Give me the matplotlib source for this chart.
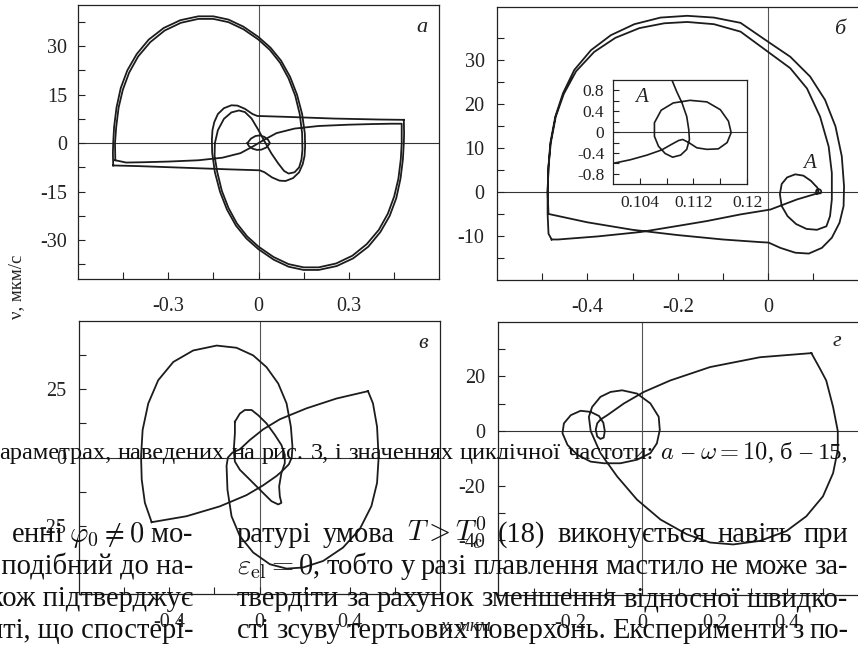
import numpy as np
import matplotlib
matplotlib.use("Agg")
import matplotlib.pyplot as plt
from matplotlib.ticker import FixedLocator

plt.rcParams['font.family'] = ['Liberation Serif', 'DejaVu Serif']
plt.rcParams['mathtext.fontset'] = 'cm'
plt.rcParams['axes.unicode_minus'] = False

# ---------------- panel a (omega = 10) ----------------
a_loop_left = [(-0.483, -6.9), (-0.484, -3), (-0.483, 0), (-0.480, 5), (-0.472, 11), (-0.458, 17),
               (-0.436, 22.5), (-0.405, 27.5), (-0.365, 32), (-0.315, 35.6), (-0.26, 38), (-0.2, 39.2),
               (-0.15, 39.2), (-0.1, 38.2), (-0.05, 36), (0.0, 32.8), (0.04, 29.5), (0.075, 25.5),
               (0.105, 20.5), (0.128, 15), (0.145, 9), (0.154, 3), (0.155, -1), (0.153, -4),
               (0.147, -6.5), (0.135, -9), (0.115, -10.8), (0.09, -11.7), (0.07, -11.6), (0.045, -10.6),
               (0.02, -9), (0.004, -8.4), (-0.1, -8.1), (-0.25, -7.6), (-0.4, -7.1), (-0.483, -6.9)]
a_loop_right = [(0.483, 7.2), (0.484, 3), (0.483, 0), (0.480, -5), (0.472, -11), (0.458, -17),
                (0.436, -22.5), (0.405, -27.5), (0.365, -32), (0.315, -35.6), (0.26, -38), (0.2, -39.2),
                (0.15, -39.2), (0.1, -38.2), (0.05, -36), (0.0, -32.8), (-0.04, -29.5), (-0.075, -25.5),
                (-0.105, -20.5), (-0.128, -15), (-0.145, -9), (-0.154, -3), (-0.155, 1), (-0.153, 4),
                (-0.147, 6.5), (-0.135, 9), (-0.115, 10.8), (-0.09, 11.7), (-0.07, 11.6), (-0.045, 10.6),
                (-0.02, 9), (-0.004, 8.4), (0.1, 8.1), (0.25, 7.6), (0.4, 7.3), (0.483, 7.2)]
a_inner = [(-0.476, -5.3), (-0.477, 0), (-0.473, 5), (-0.465, 11), (-0.451, 16.5), (-0.43, 21.8),
           (-0.4, 26.8), (-0.36, 31.2), (-0.312, 34.8), (-0.258, 37.2), (-0.2, 38.4), (-0.15, 38.4),
           (-0.1, 37.4), (-0.05, 35.2), (0.0, 32), (0.038, 28.8), (0.072, 24.8), (0.1, 20),
           (0.122, 14.7), (0.137, 9), (0.145, 3), (0.146, -2), (0.143, -5), (0.135, -7.5),
           (0.12, -9.0), (0.1, -9.4), (0.085, -8.6), (0.065, -6.2), (0.043, -3.2), (0.021, 0.4),
           (0.0, 4), (-0.023, 7.6), (-0.045, 9.6), (-0.065, 10.1), (-0.09, 9.5), (-0.115, 7.5),
           (-0.135, 4), (-0.145, 0), (-0.146, -4), (-0.137, -9), (-0.122, -14.7), (-0.1, -20),
           (-0.072, -24.8), (-0.038, -28.8), (0.0, -32), (0.05, -35.2), (0.1, -37.4), (0.15, -38.4),
           (0.2, -38.4), (0.258, -37.2), (0.312, -34.8), (0.36, -31.2), (0.4, -26.8), (0.43, -21.8),
           (0.451, -16.5), (0.465, -11), (0.473, -5), (0.476, 0), (0.476, 6.0), (0.44, 6.0),
           (0.38, 5.9), (0.3, 5.7), (0.2, 5.3), (0.12, 4.5), (0.06, 3.1), (0.02, 1.1), (0.0, 0),
           (-0.02, -1.1), (-0.06, -3.1), (-0.12, -4.5), (-0.2, -5.3), (-0.3, -5.7), (-0.38, -5.9),
           (-0.44, -6.0), (-0.476, -5.3)]
a_lens = [(-0.037, 0.0), (-0.025, 1.4), (-0.01, 2.2), (0.005, 2.4), (0.02, 1.9), (0.032, 1.0),
          (0.038, 0.0), (0.027, -1.3), (0.01, -2.0), (-0.005, -2.1), (-0.02, -1.7), (-0.032, -0.9),
          (-0.037, 0.0)]
a_xticks, a_xlabels = [-0.3, 0, 0.3], ['-0.3', '0', '0.3']
a_yticks, a_ylabels = [-30, -15, 0, 15, 30], ['-30', '-15', '0', '15', '30']
a_xminor = [-0.45, -0.15, 0.15, 0.45]
a_yminor = [-37.5, -22.5, -7.5, 7.5, 22.5, 37.5]

# ---------------- panel b (omega = 15) ----------------
b_traj = [(-0.479, -10.8), (-0.486, -9.5), (-0.488, -5), (-0.488, 0), (-0.486, 5.8), (-0.482, 11.1),
          (-0.471, 17.1), (-0.454, 22.4), (-0.429, 27.7), (-0.392, 32.2), (-0.348, 35.6), (-0.296, 38.1),
          (-0.238, 39.6), (-0.179, 40.0), (-0.12, 39.6), (-0.061, 38.4), (0.0, 34.1), (0.049, 30.7),
          (0.093, 26.2), (0.126, 20.9), (0.149, 14.9), (0.163, 8.1), (0.168, 1.3), (0.167, -3.2),
          (0.158, -7.0), (0.141, -10.4), (0.119, -12.7), (0.09, -14.0), (0.06, -13.8), (0.027, -12.7),
          (0.001, -11.5), (-0.017, -11.4), (-0.1, -10.8), (-0.2, -9.8), (-0.3, -8.6), (-0.4, -6.9),
          (-0.486, -5.0), (-0.488, 0), (-0.486, 5.8), (-0.481, 11.1), (-0.47, 17.1), (-0.452, 22.3),
          (-0.425, 27.4), (-0.385, 31.8), (-0.338, 35.0), (-0.285, 37.2), (-0.23, 38.3), (-0.179, 38.6),
          (-0.12, 38.1), (-0.061, 36.4), (0.0, 31.8), (0.049, 28.1), (0.086, 23.5), (0.115, 17.1),
          (0.134, 10.3), (0.141, 4.3), (0.141, -1.7), (0.137, -5.5), (0.129, -7.8), (0.108, -8.6),
          (0.085, -8.4), (0.062, -7.3), (0.043, -5.5), (0.03, -3.2), (0.026, -0.5), (0.03, 1.8),
          (0.042, 3.3), (0.06, 4.0), (0.078, 3.7), (0.095, 2.5), (0.104, 1.5), (0.1088, 1.0),
          (0.1095, 0.78), (0.1103, 0.56), (0.111, 0.3), (0.1113, 0.05), (0.1114, -0.14), (0.111, -0.33),
          (0.1101, -0.44), (0.1089, -0.48), (0.1078, -0.41), (0.1068, -0.27), (0.1062, -0.08),
          (0.1062, 0.18), (0.1072, 0.42), (0.109, 0.56), (0.1115, 0.61), (0.114, 0.58), (0.116, 0.43),
          (0.1172, 0.21), (0.1176, -0.01), (0.117, -0.2), (0.1157, -0.32), (0.114, -0.33),
          (0.1125, -0.3), (0.1113, -0.2), (0.1104, -0.14), (0.1098, -0.16), (0.1088, -0.23),
          (0.1073, -0.34), (0.1051, -0.44), (0.1026, -0.53), (0.1, -0.6), (0.064, -1.7), (0.005, -4.0),
          (-0.061, -5.1), (-0.135, -6.6), (-0.193, -7.6), (-0.282, -9.1), (-0.377, -10.1),
          (-0.465, -10.8), (-0.479, -10.8)]
b_xticks, b_xlabels = [-0.4, -0.2, 0], ['-0.4', '-0.2', '0']
b_yticks, b_ylabels = [-10, 0, 10, 20, 30], ['-10', '0', '10', '20', '30']
b_xminor = [-0.5, -0.3, -0.1, 0.1]
b_yminor = [-15, -5, 5, 15, 25, 35]
ins_xticks, ins_xlabels = [0.104, 0.112, 0.12], ['0.104', '0.112', '0.12']
ins_yticks, ins_ylabels = [-0.8, -0.4, 0, 0.4, 0.8], ['-0.8', '-0.4', '0', '0.4', '0.8']
ins_xminor = [0.108, 0.116]
ins_yminor = [-0.6, -0.2, 0.2, 0.6]

# ---------------- panel c ----------------
c_loop_left = [(-0.478, -23.7), (-0.508, -16.6), (-0.522, -8.1), (-0.525, 0.4), (-0.518, 10.1),
               (-0.493, 19.8), (-0.449, 28.3), (-0.382, 35), (-0.294, 39.2), (-0.19, 41),
               (-0.102, 40.2), (-0.028, 37.4), (0.031, 33.1), (0.083, 27.1), (0.12, 19.8),
               (0.139, 11.3), (0.146, 4), (0.143, 0), (0.13, -2.5), (0.1, -5), (0.075, -6.8),
               (0.016, -10.2), (-0.058, -13.8), (-0.176, -17.9), (-0.323, -21.5), (-0.478, -23.7)]
c_loop_right = [(0.481, 24.3), (0.503, 19.8), (0.521, 11.3), (0.528, 0), (0.521, -9.3), (0.496, -17.8),
                (0.444, -26.3), (0.37, -33), (0.282, -37.9), (0.193, -40.3), (0.12, -40.7),
                (0.046, -39.1), (-0.028, -34.8), (-0.087, -28.8), (-0.124, -21.5), (-0.142, -11.8),
                (-0.146, -3), (-0.14, 0), (-0.12, 1.8), (-0.087, 3), (-0.043, 6.4), (0.016, 10.3),
                (0.09, 14.0), (0.208, 18.0), (0.341, 21.6), (0.481, 24.3)]
c_diamond = [(-0.109, 13.1), (-0.087, 16.1), (-0.065, 17.4), (-0.035, 17.4), (-0.006, 15.5),
             (0.031, 12.5), (0.068, 8.3), (0.097, 4.6), (0.112, 1.0), (0.112, -2.1), (0.097, -5.7),
             (0.087, -10.6), (0.09, -14.2), (0.097, -16.6), (0.083, -17.2), (0.053, -16.0),
             (0.009, -12.4), (-0.043, -8.1), (-0.087, -4.5), (-0.109, -1.5), (-0.114, 2.8),
             (-0.109, 8.9), (-0.109, 13.1)]
c_xticks, c_xlabels = [-0.4, 0, 0.4], ['-0.4', '0', '0.4']
c_yticks, c_ylabels = [-25, 0, 25], ['-25', '0', '25']
c_xminor = [-0.6, -0.2, 0.2, 0.6]
c_yminor = [-37.5, -12.5, 12.5, 37.5]

# ---------------- panel d ----------------
d_traj = [(0.467, 28.5), (0.49, 23), (0.508, 18.5), (0.527, 8.8), (0.54, 0), (0.54, -6.9),
          (0.527, -15.4), (0.499, -23.9), (0.453, -31.2), (0.398, -36.6), (0.325, -40.2),
          (0.251, -41.5), (0.187, -40.8), (0.123, -37.8), (0.05, -32.4), (-0.015, -25.1),
          (-0.07, -16.6), (-0.116, -8.1), (-0.143, 0), (-0.148, 5.2), (-0.139, 8.8), (-0.116, 12.5),
          (-0.088, 14.3), (-0.056, 14.9), (-0.015, 13.7), (0.022, 10.1), (0.045, 5.2), (0.048, 0.4),
          (0.04, -4.5), (0.022, -8.1), (-0.015, -10.5), (-0.061, -11.8), (-0.106, -11.8),
          (-0.143, -11.2), (-0.18, -8.7), (-0.207, -5.1), (-0.221, -0.8), (-0.217, 2.8),
          (-0.198, 5.8), (-0.171, 7.4), (-0.143, 7.0), (-0.12, 5.5), (-0.108, 3.0), (-0.104, 0),
          (-0.107, -2.4), (-0.116, -2.9), (-0.125, -2.0), (-0.129, 0.5), (-0.125, 2.8),
          (-0.116, 4.2), (-0.097, 5.8), (-0.051, 10.1), (0.004, 14.3), (0.077, 18.5),
          (0.187, 23.4), (0.325, 27.0), (0.467, 28.5)]
d_xticks, d_xlabels = [-0.2, 0, 0.2, 0.4], ['-0.2', '0', '0.2', '0.4']
d_yticks, d_ylabels = [-40, -20, 0, 20], ['-40', '-20', '0', '20']
d_xminor = [-0.3, -0.1, 0.1, 0.3, 0.5]
d_yminor = [-50, -30, -10, 10, 30]

# page text that sits over the lower half of the figure
caption = 'араметрах, наведених на рис. 3, і значеннях циклічної частоти: $a$ – $\\omega = 10$, б – 15,'
left_col = ['енні $\\varphi_0 \\neq 0$ мо-', 'й подібний до на-', 'кож підтверджує', 'нті, що спостері-']
right_col = ['ратурі умова $T > T_c^0$ (18) виконується навіть при',
             '$\\varepsilon_{\\rm el} = 0$, тобто у разі плавлення мастило не може за-',
             'твердіти за рахунок зменшення відносної швидко-',
             'сті зсуву тертьових поверхонь. Експерименти з по-']

W, H = 858, 646
fig = plt.figure(figsize=(W / 100, H / 100), dpi=100)
LC = '#1c1c1c'


def box(l, t, r, b):
    return [l / W, 1 - b / H, (r - l) / W, (b - t) / H]


def setup(ax, xlim, ylim, xt, xl, yt, yl, xm, ym, size=14.5, xpad=13, ypad=8, zero_v=True):
    ax.set_xlim(xlim)
    ax.set_ylim(ylim)
    ax.xaxis.set_major_locator(FixedLocator(xt))
    ax.yaxis.set_major_locator(FixedLocator(yt))
    ax.set_xticklabels(xl)
    ax.set_yticklabels(yl)
    ax.xaxis.set_minor_locator(FixedLocator(xm))
    ax.yaxis.set_minor_locator(FixedLocator(ym))
    ax.tick_params(which='both', direction='in', length=5, width=0.8, color='#222')
    ax.tick_params(axis='both', labelsize=size, colors='#222')
    ax.tick_params(axis='x', which='major', pad=xpad)
    ax.tick_params(axis='y', which='major', pad=ypad)
    for s in ax.spines.values():
        s.set_linewidth(0.9)
        s.set_color('#222')
    ax.axhline(0, color='#333', lw=0.8, zorder=1)
    if zero_v:
        ax.axvline(0, color='#555', lw=0.8, zorder=1)


def draw(ax, pts, lw=1.3):
    p = np.array(pts)
    ax.plot(p[:, 0], p[:, 1], color=LC, lw=lw, solid_joinstyle='round', zorder=3)


ax_a = fig.add_axes(box(78, 5, 439, 279))
setup(ax_a, (-0.6, 0.6), (-42, 42.7), a_xticks, a_xlabels, a_yticks, a_ylabels, a_xminor, a_yminor)
for s in (a_loop_left, a_loop_right, a_inner, a_lens):
    draw(ax_a, s)

ax_b = fig.add_axes(box(497, 7, 858.5, 280))
setup(ax_b, (-0.6, 0.2), (-20, 42), b_xticks, b_xlabels, b_yticks, b_ylabels, b_xminor, b_yminor, ypad=9)
draw(ax_b, b_traj)

ax_i = fig.add_axes(box(612.7, 80, 747.3, 184.3))
setup(ax_i, (0.1, 0.12), (-1, 1), ins_xticks, ins_xlabels, ins_yticks, ins_ylabels, ins_xminor,
      ins_yminor, size=12.5, xpad=8, ypad=6, zero_v=False)
ax_i.tick_params(which='both', length=4)
draw(ax_i, b_traj, lw=1.2)

ax_c = fig.add_axes(box(79, 321, 440, 594))
setup(ax_c, (-0.8, 0.8), (-50, 50), c_xticks, c_xlabels, c_yticks, c_ylabels, c_xminor, c_yminor, xpad=14, ypad=9)
for s in (c_loop_left, c_loop_right, c_diamond):
    draw(ax_c, s)

ax_d = fig.add_axes(box(497.7, 321.7, 859.5, 595))
setup(ax_d, (-0.4, 0.6), (-60, 40), d_xticks, d_xlabels, d_yticks, d_ylabels, d_xminor, d_yminor, xpad=14, ypad=9)
draw(ax_d, d_traj)


def ftext(x, y, s, **kw):
    return fig.text(x / W, 1 - y / H, s, **kw)


# panel letters and labels
for (x, y, s) in [(422, 27, 'a'), (840, 29, 'б'), (423, 343, 'в'), (837, 341, 'г')]:
    ftext(x, y, s, fontsize=16, style='italic', ha='center', va='center', color='#222')
ftext(642, 98, 'A', fontsize=15, style='italic', ha='center', va='center', color='#222')
ftext(810, 163, 'A', fontsize=15, style='italic', ha='center', va='center', color='#222')
ftext(17, 287, 'ν, мкм/с', fontsize=13.5, rotation=90, ha='center', va='center', color='#222')
ftext(466, 626, 'x, мкм', fontsize=13.5, style='italic', ha='center', va='center', color='#222')

# page text: one font size per block, words spread to the measured column edges
renderer = fig.canvas.get_renderer()


def words(s):
    out, cur, inmath = [], '', False
    for ch in s:
        if ch == '$':
            inmath = not inmath
        if ch == ' ' and not inmath:
            if cur:
                out.append(cur)
            cur = ''
        else:
            cur += ch
    if cur:
        out.append(cur)
    return out


def natural_size(x0, x1, s, size):
    t = ftext(0, 0, s, fontsize=size)
    w = t.get_window_extent(renderer).width
    t.remove()
    return size * (x1 - x0) / w


def justify(x0, x1, y, s, size):
    ts = [ftext(0, y, w, fontsize=size, va='baseline', color='#111', zorder=20) for w in words(s)]
    ws = [t.get_window_extent(renderer).width for t in ts]
    gap = (x1 - x0 - sum(ws)) / (len(ws) - 1)
    x = x0
    for t, w in zip(ts, ws):
        t.set_x(x / W)
        x += w + gap


cap_size = natural_size(-1, 848, caption, 14)
justify(-1, 848, 459, caption, cap_size)
body = float(np.mean([natural_size(237, 848, s, 18) for s in right_col]))
for i, s in enumerate(right_col):
    justify(237, 848, 542 + 32 * i, s, body)
for i, s in enumerate(left_col):
    ftext(193, 542 + 32 * i, s, fontsize=body, ha='right', va='baseline', color='#111', zorder=20)

fig.savefig('out.png', dpi=100)
